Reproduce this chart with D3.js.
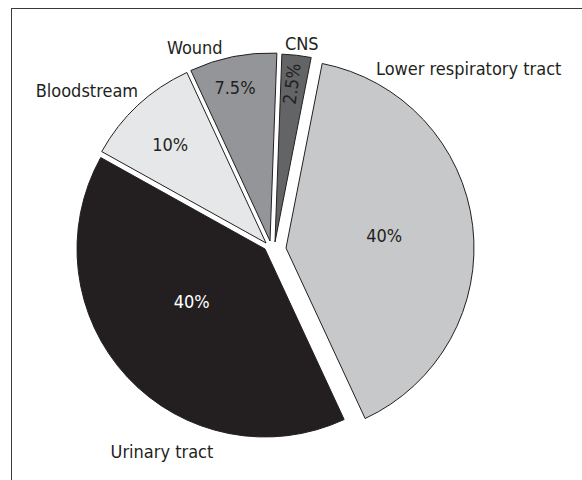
<!DOCTYPE html>
<html>
<head>
<meta charset="utf-8">
<title>Infection sites</title>
<script src="https://d3js.org/d3.v7.min.js"></script>
<style>
  body { margin: 0; background: #fff; }
  text { font-family: "DejaVu Sans Condensed", "Liberation Sans Narrow", sans-serif; font-size: 18px; fill: #231f20; }
</style>
</head>
<body>
<div id="chart"></div>
<script>
// data
var sites = ["Lower respiratory tract", "Urinary tract", "Bloodstream", "Wound", "CNS"];
var shares = [40, 40, 10, 7.5, 2.5];
var pctLabels = ["40%", "40%", "10%", "7.5%", "2.5%"];

// layout
var width = 582, height = 480, radius = 188;
var center = [270, 245];
var startDeg = 11.1;
var fills = ["#c7c8ca", "#231f20", "#e6e7e8", "#939598", "#636466"];
var pctColors = ["#231f20", "#ffffff", "#231f20", "#231f20", "#231f20"];
// how far each slice is pulled out of the pie (dx, dy)
var explode = [[16, 3], [-5, 4], [-4, -2], [0, -4], [5, -3]];
// label placement around each slice centre: angle (deg clockwise from 12 o'clock), radius, anchor
var namePos = [[26.6, 201, "start"], [207, 227, "middle"], [320, 199, "end"], [338.7, 207, "middle"], [7.7, 200, "middle"]];
var pctPos = [[83, 99], [234.5, 90], [315.6, 137], [347.1, 157], [6.1, 159]];

function polar(deg, r) {
    var a = deg * Math.PI / 180;
    return [r * Math.sin(a), -r * Math.cos(a)];
}

var svg = d3.select("#chart").append("svg")
    .attr("width", width)
    .attr("height", height);

// frame (right and bottom edges fall outside the picture)
svg.append("rect")
    .attr("x", 11.5).attr("y", 8.5)
    .attr("width", 700).attr("height", 600)
    .attr("fill", "none")
    .attr("stroke", "#3a3a3a")
    .attr("stroke-width", 1);

var pie = d3.pie()
    .sort(null)
    .startAngle(startDeg * Math.PI / 180)
    .endAngle(startDeg * Math.PI / 180 + 2 * Math.PI);

var arc = d3.arc()
    .innerRadius(0)
    .outerRadius(radius);

var arcs = pie(shares);

var slice = svg.selectAll("g.slice")
    .data(arcs)
    .enter().append("g")
    .attr("class", "slice")
    .attr("transform", function (d, i) {
        return "translate(" + (center[0] + explode[i][0]) + "," + (center[1] + explode[i][1]) + ")";
    });

slice.append("path")
    .attr("d", arc)
    .attr("fill", function (d, i) { return fills[i]; })
    .attr("stroke", "#231f20")
    .attr("stroke-width", 1)
    .attr("stroke-linejoin", "miter");

// percentage labels
slice.append("text")
    .attr("text-anchor", "middle")
    .attr("dy", "0.35em")
    .style("fill", function (d, i) { return pctColors[i]; })
    .attr("transform", function (d, i) {
        var p = polar(pctPos[i][0], pctPos[i][1]);
        var t = "translate(" + p[0] + "," + p[1] + ")";
        if (i === 4) t += " rotate(" + (pctPos[i][0] - 89) + ")";
        return t;
    })
    .text(function (d, i) { return pctLabels[i]; });

// category labels
slice.append("text")
    .attr("text-anchor", function (d, i) { return namePos[i][2]; })
    .attr("dy", "0.35em")
    .attr("x", function (d, i) { return polar(namePos[i][0], namePos[i][1])[0]; })
    .attr("y", function (d, i) { return polar(namePos[i][0], namePos[i][1])[1]; })
    .text(function (d, i) { return sites[i]; });
</script>
</body>
</html>
